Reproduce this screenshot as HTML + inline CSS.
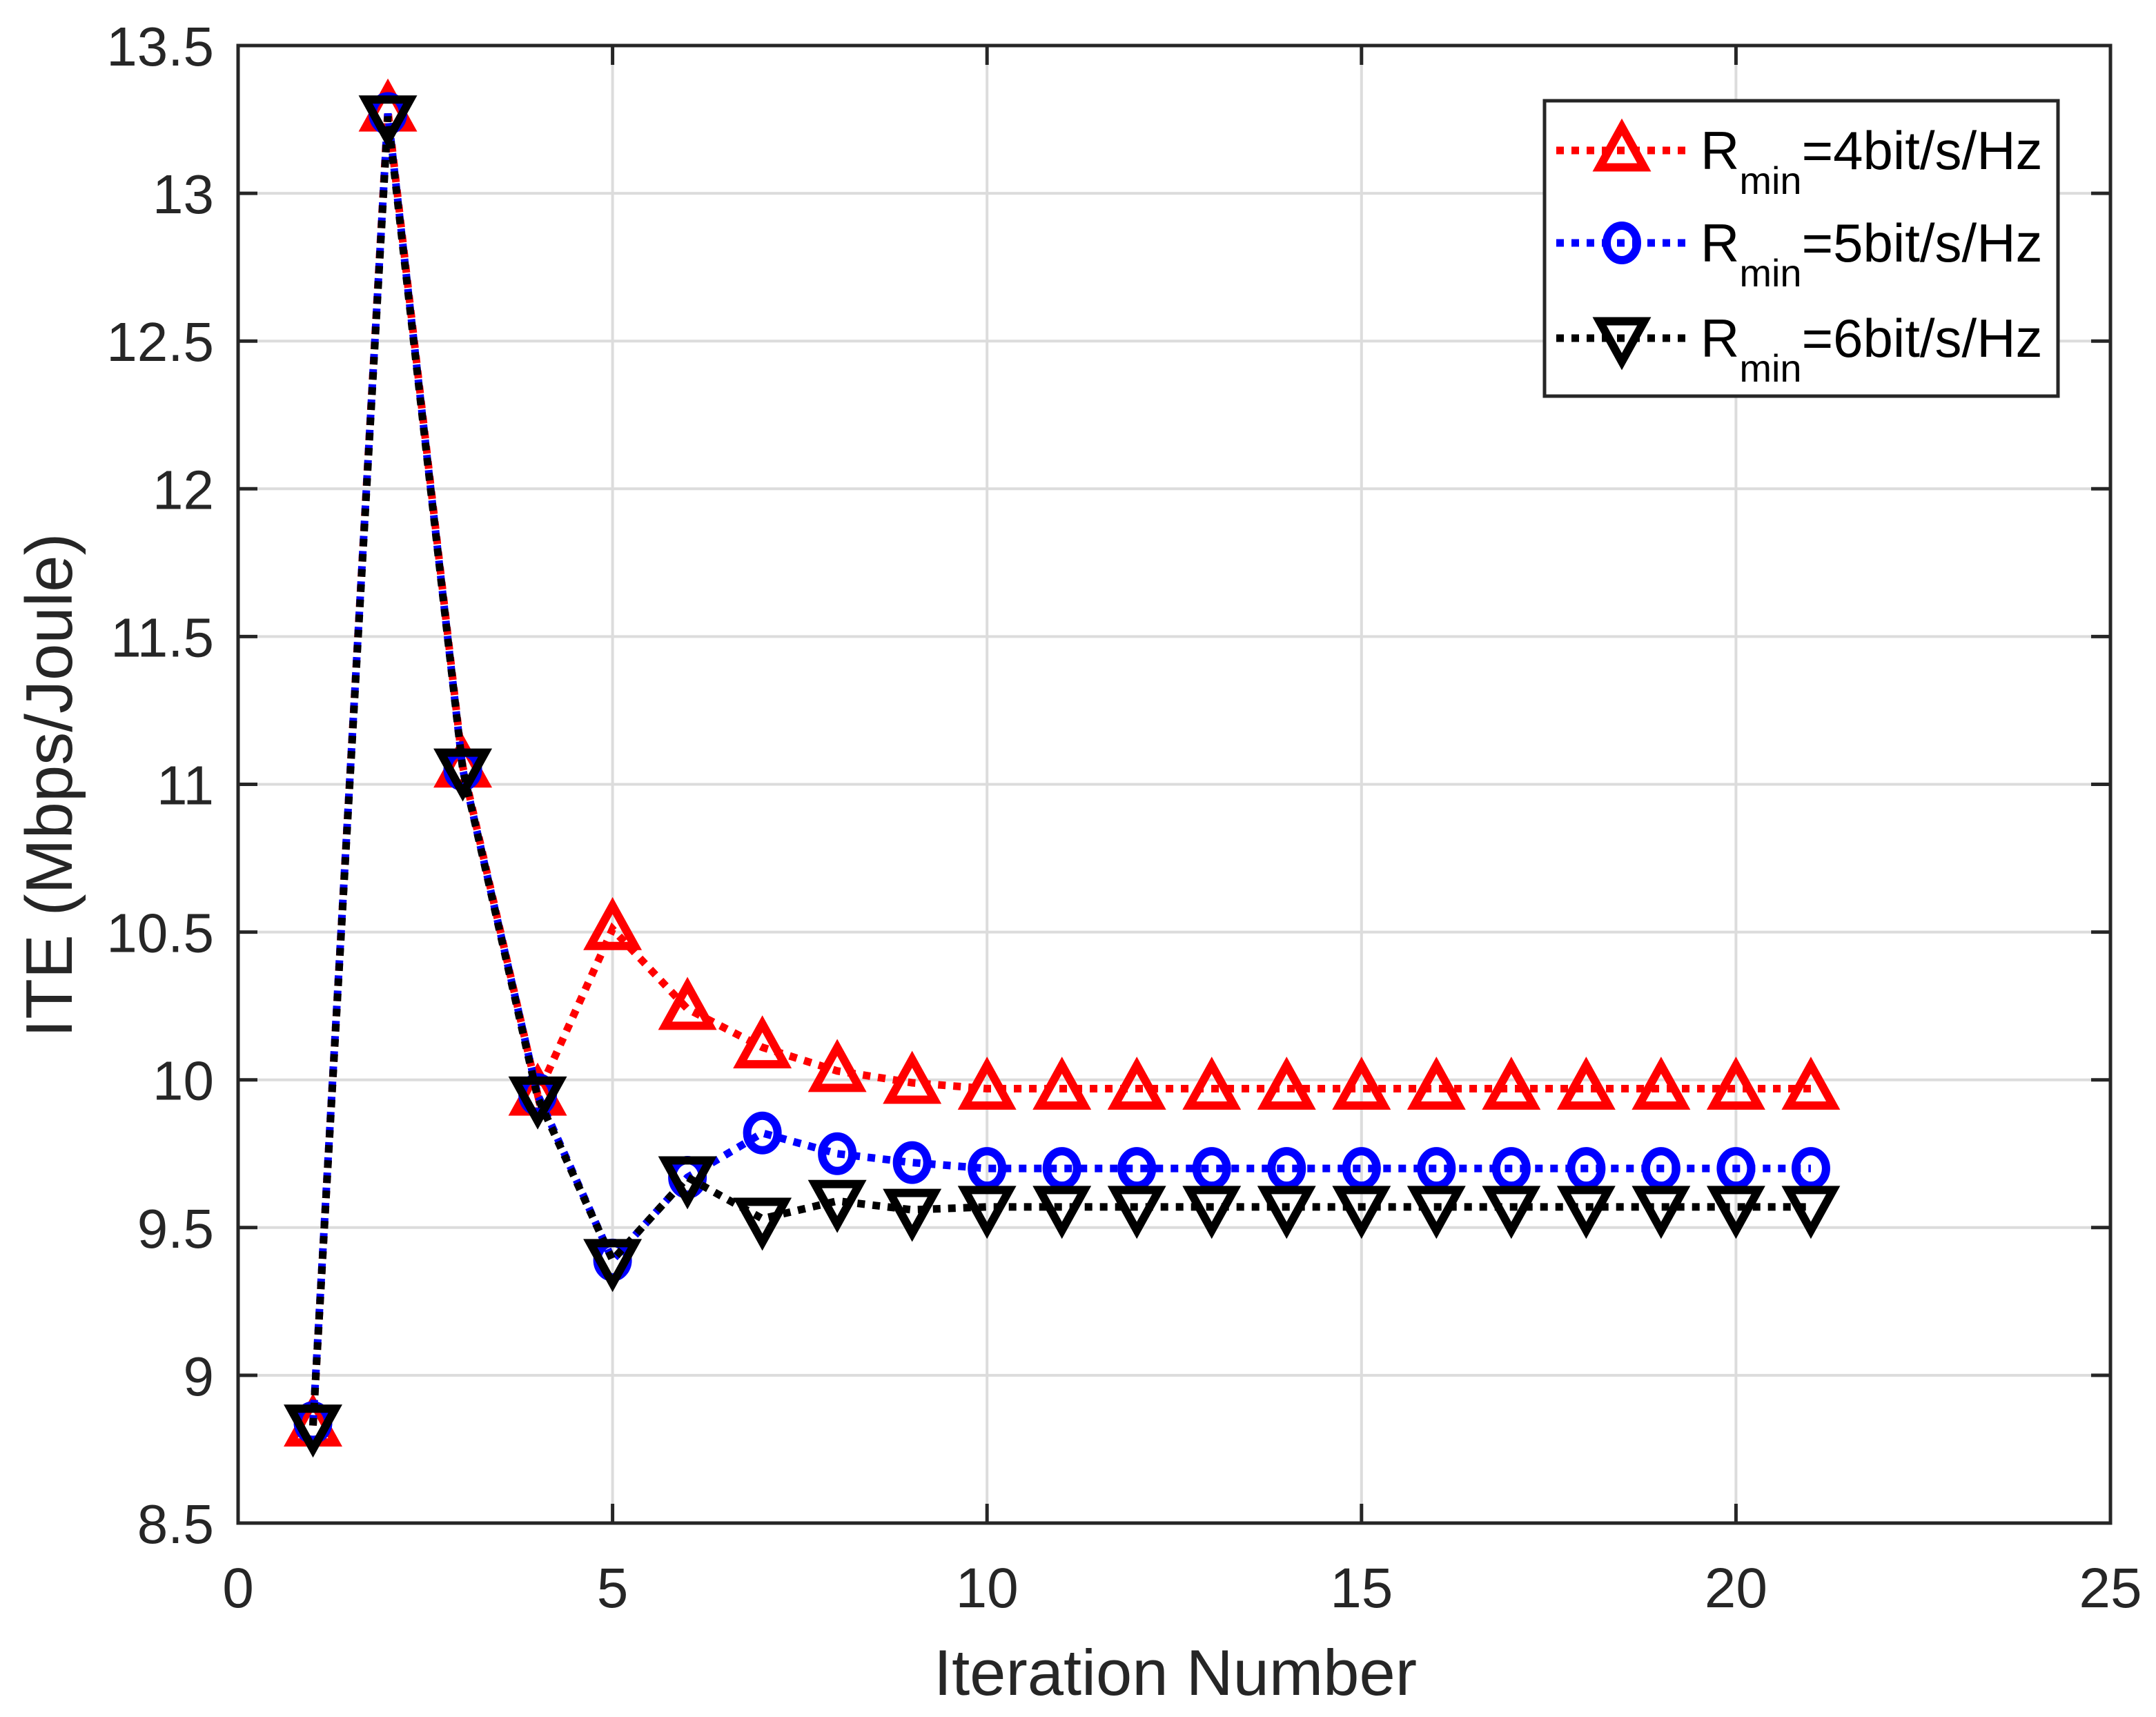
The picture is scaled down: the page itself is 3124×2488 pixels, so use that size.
<!DOCTYPE html>
<html><head><meta charset="utf-8"><style>
html,body{margin:0;padding:0;background:#fff;}
svg{display:block;font-family:"Liberation Sans",Arial,sans-serif;}
</style></head><body>
<svg id="chart" xmlns="http://www.w3.org/2000/svg" width="3124" height="2488" viewBox="0 0 3124 2488">
<rect width="3124" height="2488" fill="#fff"/>
<g id="grid"></g>
<g id="series"></g>
<g id="axes"></g>
<text x="1703" y="2456" font-size="94" text-anchor="middle" fill="#262626">Iteration Number</text>
<text transform="translate(104,1138) rotate(-90)" font-size="96" text-anchor="middle" fill="#262626">ITE (Mbps/Joule)</text>
<g id="legend"></g>
</svg>
<script>
const xTicks=[0,5,10,15,20,25];
const yTicks=[8.5,9,9.5,10,10.5,11,11.5,12,12.5,13,13.5];
const yTickLabels=["8.5","9","9.5","10","10.5","11","11.5","12","12.5","13","13.5"];
const iterations=[1,2,3,4,5,6,7,8,9,10,11,12,13,14,15,16,17,18,19,20,21];
const seriesR4=[8.83,13.28,11.06,9.95,10.51,10.24,10.11,10.03,9.99,9.97,9.97,9.97,9.97,9.97,9.97,9.97,9.97,9.97,9.97,9.97,9.97];
const seriesR5=[8.84,13.27,11.05,9.95,9.39,9.67,9.82,9.75,9.72,9.70,9.70,9.70,9.70,9.70,9.70,9.70,9.70,9.70,9.70,9.70,9.70];
const seriesR6=[8.83,13.26,11.05,9.94,9.39,9.67,9.53,9.59,9.56,9.57,9.57,9.57,9.57,9.57,9.57,9.57,9.57,9.57,9.57,9.57,9.57];
const legendLabels=["=4bit/s/Hz","=5bit/s/Hz","=6bit/s/Hz"];

const L=345,R=3058,T=66,B=2207;
const xMin=0,xMax=25,yMin=8.5,yMax=13.5;
const sx=v=>L+(v-xMin)/(xMax-xMin)*(R-L);
const sy=v=>B-(v-yMin)/(yMax-yMin)*(B-T);
const NS="http://www.w3.org/2000/svg";
function mk(tag,attrs,parent){const e=document.createElementNS(NS,tag);for(const k in attrs)e.setAttribute(k,attrs[k]);parent.appendChild(e);return e;}
const grid=document.getElementById('grid'),axes=document.getElementById('axes'),ser=document.getElementById('series'),leg=document.getElementById('legend');

xTicks.forEach(t=>{
  const x=sx(t);
  if(t>xMin&&t<xMax){const g=mk('line',{x1:x,x2:x,y1:T,y2:B,stroke:'#dcdcdc','stroke-width':4},grid);
  
  }
  const a=mk('line',{x1:x,x2:x,y1:B,y2:B-28,stroke:'#262626','stroke-width':5},axes);
  
  
  const b=mk('line',{x1:x,x2:x,y1:T,y2:T+28,stroke:'#262626','stroke-width':5},axes);
  
  
  const tx=mk('text',{x:x,y:2329,'font-size':82,'text-anchor':'middle',fill:'#262626'},axes);
  tx.textContent=String(t);
  
  
});
yTicks.forEach((t,i)=>{
  const y=sy(t);
  if(t>yMin&&t<yMax){const g=mk('line',{x1:L,x2:R,y1:y,y2:y,stroke:'#dcdcdc','stroke-width':4},grid);
  
  }
  const a=mk('line',{x1:L,x2:L+28,y1:y,y2:y,stroke:'#262626','stroke-width':5},axes);
  
  
  const b=mk('line',{x1:R,x2:R-28,y1:y,y2:y,stroke:'#262626','stroke-width':5},axes);
  
  
  const tx=mk('text',{x:310,y:y+29,'font-size':80,'text-anchor':'end',fill:'#262626'},axes);
  tx.textContent=yTickLabels[i];
  
  
});
const box=mk('rect',{x:L,y:T,width:R-L,height:B-T,fill:'none',stroke:'#262626','stroke-width':5},axes);



function marker(type,x,y,color,parent){
  const s=34;let e;
  if(type==='up') e=mk('polygon',{points:`${x},${y-s} ${x-s*0.95},${y+s*0.72} ${x+s*0.95},${y+s*0.72}`},parent);
  else if(type==='down') e=mk('polygon',{points:`${x},${y+s} ${x-s*0.95},${y-s*0.72} ${x+s*0.95},${y-s*0.72}`},parent);
  else e=mk('ellipse',{cx:x,cy:y,rx:22,ry:25},parent);
  e.setAttribute('fill','none');e.setAttribute('stroke',color);e.setAttribute('stroke-width',12);
  return e;
}
const defs=[{d:seriesR4,c:'#ff0000',m:'up',n:'rmin-4'},{d:seriesR5,c:'#0000ff',m:'circle',n:'rmin-5'},{d:seriesR6,c:'#000000',m:'down',n:'rmin-6'}];
defs.forEach(s=>{
  const g=mk('g',{},ser);
  
  
  const pts=iterations.map((it,i)=>sx(it)+','+sy(s.d[i])).join(' ');
  const pl=mk('polyline',{points:pts,fill:'none',stroke:s.c,'stroke-width':11,'stroke-dasharray':'11 11'},g);
  
  
  iterations.forEach((it,i)=>{
    const mm=marker(s.m,sx(it),sy(s.d[i]),s.c,g);
    
    
  });
});
const lb=mk('rect',{x:2238,y:146,width:744,height:428,fill:'#fff',stroke:'#262626','stroke-width':5},leg);


const rowsY=[218,352,490];
defs.forEach((s,i)=>{
  const y=rowsY[i];
  const g=mk('g',{},leg);
  
  
  mk('line',{x1:2255,x2:2442,y1:y,y2:y,stroke:s.c,'stroke-width':11,'stroke-dasharray':'11 11'},g);
  marker(s.m,2350,y,s.c,g);
  const t=mk('text',{x:2464,y:y+27,'font-size':78,fill:'#000'},g);
  t.innerHTML='R<tspan font-size="56" dy="36">min</tspan><tspan dy="-36">'+legendLabels[i]+'</tspan>';
});
</script>
</body></html>
